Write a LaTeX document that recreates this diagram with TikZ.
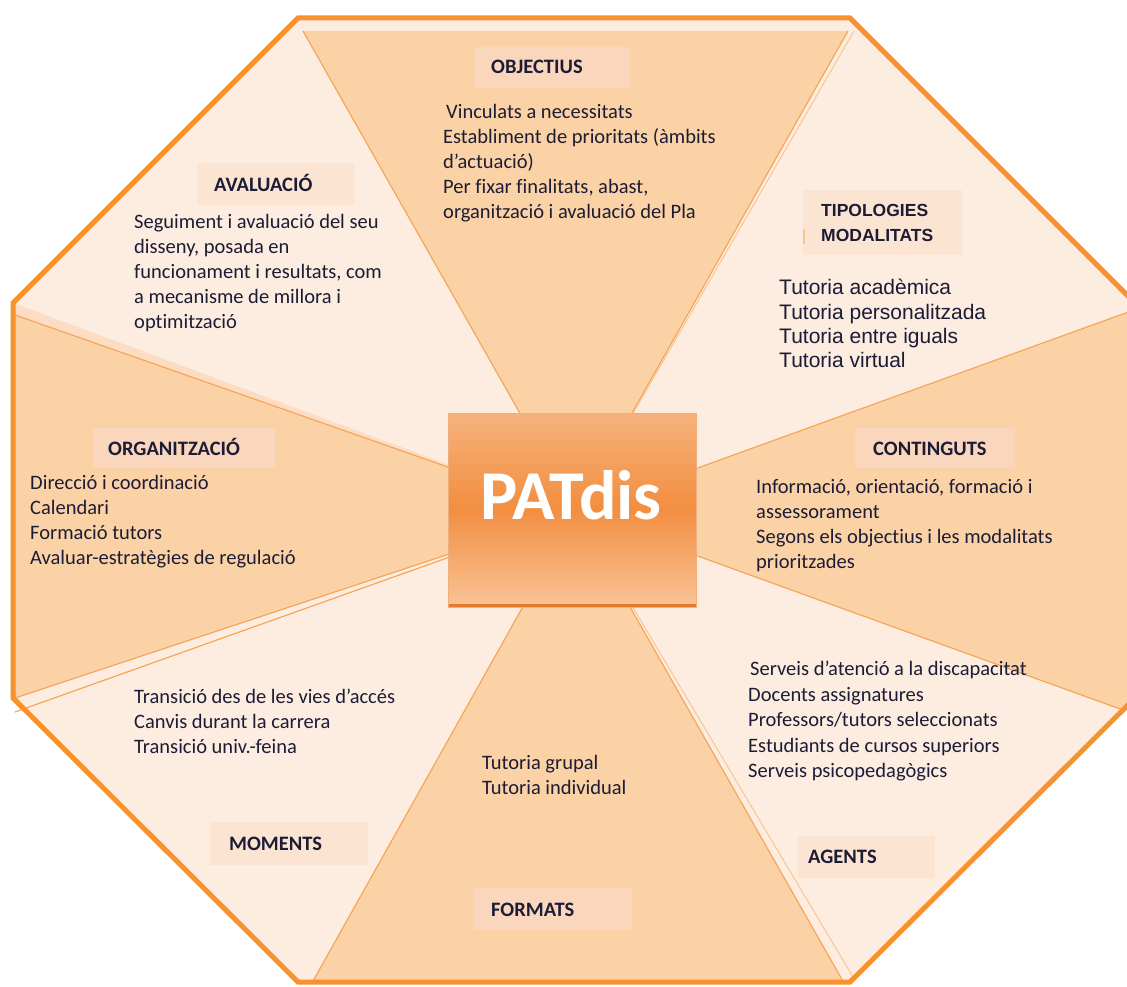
\documentclass[tikz,border=0pt]{standalone}
\usepackage{fontspec}
\setmainfont{Carlito}[Ligatures=CommonOff]
\newfontfamily\arialf{Liberation Sans}
\definecolor{lightfill}{HTML}{FDECE0}
\definecolor{darkfill}{HTML}{FBD2A5}
\definecolor{midfill}{HTML}{FCDCC2}
\definecolor{octline}{HTML}{F7922F}
\definecolor{thinline}{HTML}{F7A252}
\definecolor{paleline}{HTML}{F9C594}
\definecolor{lboxdark}{HTML}{FAD6BD}
\definecolor{lboxlight}{HTML}{FCE4D3}
\definecolor{txt}{HTML}{1C1C36}
\definecolor{boxtop}{HTML}{F6B27C}
\definecolor{boxmid}{HTML}{F28E40}
\definecolor{boxbot}{HTML}{F9C295}
\definecolor{boxshadow}{HTML}{E27A2A}
\begin{document}
\begin{tikzpicture}[x=1pt,y=-1pt,
  body/.style={anchor=north west, inner sep=0pt, align=left, text=txt, font=\fontsize{20.5}{25}\selectfont},
  title/.style={anchor=base west, inner sep=0pt, text=txt, font=\fontsize{20.5}{25}\selectfont\bfseries},
  edgeline/.style={draw=thinline, line width=1.1pt},
  paleedge/.style={draw=paleline, line width=1pt},
  octpath/.style={line width=5pt, draw=octline, line join=miter}]
\useasboundingbox (0,0) rectangle (1127,987);
\fill[white] (0,0) rectangle (1127,987);
\coordinate (C) at (576,512);
\def\octagon{(298,18) -- (850,18) -- (1135,303) -- (1135,698) -- (850,982) -- (298,982) -- (13,698) -- (13,303) -- cycle}
\fill[lightfill] \octagon;
\begin{scope}
  \clip \octagon;
  % dark wedges
  \fill[darkfill] (303,31) -- (C) -- (848,31) -- cycle;
  \fill[darkfill] (15,315) -- (C) -- (15,698) -- cycle;
  \fill[darkfill] (1145,306) -- (C) -- (1145,718) -- cycle;
  \fill[darkfill] (308,990) -- (C) -- (848,990) -- cycle;
  \fill[midfill] (13,303) -- (C) -- (15,315) -- cycle;
  % edges
  \draw[edgeline] (303,31) -- (C) -- (848,31);
  \draw[edgeline] (15,315) -- (C) -- (15,698);
  \draw[edgeline] (1145,306) -- (C) -- (1145,718);
  \draw[edgeline] (308,990) -- (C) -- (848,990);
  \draw[paleedge] (854,31) -- (C);
  \draw[paleedge] (856,982) -- (C);
\end{scope}
\draw[edgeline] (15,712) -- (C);
\draw[octpath] \octagon;
% centre box
\shade[top color=boxtop, bottom color=boxbot, middle color=boxmid] (448,413) rectangle (696,604);
\fill[boxshadow] (448,604) rectangle (696,607.5);
\draw[boxshadow!60, line width=0.6pt] (448,413) rectangle (696,607.5);
\node[anchor=base, inner sep=0pt, text=white, font=\fontsize{70}{70}\selectfont\bfseries] (core) at (571,519) {PATdis};
% label boxes
\fill[lboxdark] (475,47) rectangle (630,88);
\fill[lboxlight] (197,163) rectangle (355,205);
\fill[lboxlight] (803,190) rectangle (962,255);
\fill[lboxdark] (93,428) rectangle (275,468);
\fill[lboxdark] (855,428) rectangle (1015,468);
\fill[lboxlight] (210,822) rectangle (368,865);
\fill[lboxdark] (474,888) rectangle (632,930);
\fill[lboxlight] (798,836) rectangle (935,878);
\draw[paleline, line width=2pt] (804,229) -- (804,244);
% titles
\node[title] (tobj) at (491,74) {OBJECTIUS};
\node[title] (taval) at (214,192) {AVALUACIÓ};
\node[anchor=north west, inner sep=0pt, align=left, text=txt, font=\arialf\fontsize{17.5}{25}\selectfont\bfseries] (ttipo) at (821,204.5) {TIPOLOGIES\\MODALITATS};
\node[title] (torg) at (108,455) {ORGANITZACIÓ};
\node[title] (tcont) at (873,455) {CONTINGUTS};
\node[title] (tmom) at (229,850) {MOMENTS};
\node[title] (tform) at (491,916) {FORMATS};
\node[title] (tag) at (808,863) {AGENTS};
% bodies
\node[body] (bobj) at (443,104) {\hspace{3pt}Vinculats a necessitats\\Establiment de prioritats (àmbits\\d’actuació)\\Per fixar finalitats, abast,\\organització i avaluació del Pla};
\node[body] (baval) at (134,214) {Seguiment i avaluació del seu\\disseny, posada en\\funcionament i resultats, com\\a mecanisme de millora i\\optimització};
\node[body, font=\arialf\fontsize{21}{24.4}\selectfont] (btipo) at (779,279) {Tutoria acadèmica\\Tutoria personalitzada\\Tutoria entre iguals\\Tutoria virtual};
\node[body] (borg) at (30,475) {Direcció i coordinació\\Calendari\\Formació tutors\\Avaluar-estratègies de regulació};
\node[body] (bcont) at (756,479) {Informació, orientació, formació i\\assessorament\\Segons els objectius i les modalitats\\prioritzades};
\node[body] (bmom) at (134,689) {Transició des de les vies d’accés\\Canvis durant la carrera\\Transició univ.-feina};
\node[body] (bform) at (482,755) {Tutoria grupal\\Tutoria individual};
\node[body, font=\fontsize{20.5}{25.5}\selectfont] (bag) at (748,661) {\hspace{2pt}Serveis d’atenció a la discapacitat\\Docents assignatures\\Professors/tutors seleccionats\\Estudiants de cursos superiors\\Serveis psicopedagògics};
\end{tikzpicture}
\end{document}
